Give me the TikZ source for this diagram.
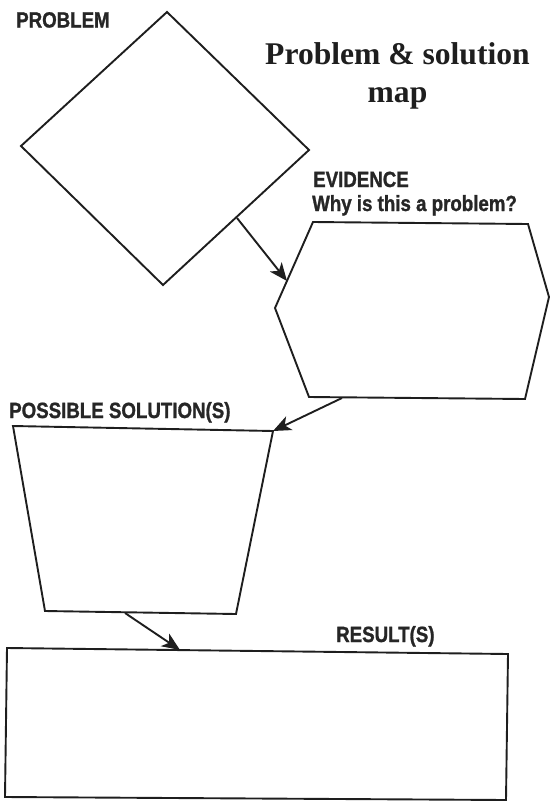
\documentclass[tikz,border=0pt]{standalone}
\usepackage{fontspec}
\setmainfont{Liberation Serif}
\newfontfamily\labelfont{Liberation Sans}[FakeStretch=0.85, BoldFeatures={FakeBold=1.2}]
\usetikzlibrary{arrows.meta}
\definecolor{ink}{HTML}{1E1E1E}
\definecolor{labelink}{HTML}{262626}
\tikzset{
  outline/.style={draw=ink, line width=1.9pt, line join=miter},
  link/.style={draw=ink, line width=1.9pt, -{Stealth[length=18pt,width=15pt,inset=5pt]}},
  heading/.style={anchor=base west, inner sep=0pt, text=labelink,
    font=\labelfont\bfseries\fontsize{22}{26}\selectfont},
  titletext/.style={anchor=base, inner sep=0pt, text=ink,
    font=\bfseries\fontsize{31.6}{38}\selectfont}
}
\begin{document}
\begin{tikzpicture}[x=1pt,y=-1pt]
\useasboundingbox (0,0) rectangle (550,801);

% shapes
\draw[outline] (167,12) -- (309,150) -- (163,285) -- (21,146) -- cycle;
\draw[outline] (313,222) -- (528,224) -- (549,297) -- (525,399) -- (309,397) -- (275,308) -- cycle;
\draw[outline] (13,426) -- (273,431) -- (236,614) -- (45,611) -- cycle;
\draw[outline] (7,648) -- (508,654) -- (506,800) -- (5,797) -- cycle;

% connector end points
\coordinate (probOut) at (237,218);
\coordinate (evidIn)  at (287,281);
\coordinate (evidOut) at (342,398);
\coordinate (solIn)   at (273,431);
\coordinate (solOut)  at (125,613);
\coordinate (resIn)   at (180,650);

\draw[link] (probOut) -- (evidIn);
\draw[link] (evidOut) -- (solIn);
\draw[link] (solOut) -- (resIn);

% labels
\node[heading] (lblProblem) at (16,27.5) {PROBLEM};
\node[heading] (lblEvidence) at (313,187) {EVIDENCE};
\node[heading] (lblWhy) at (312,211) {Why is this a problem?};
\node[heading] (lblSolution) at (9,418) {POSSIBLE SOLUTION(S)};
\node[heading] (lblResult) at (336,642) {RESULT(S)};

% title
\node[titletext] (title1) at (397.5,64) {Problem \& solution};
\node[titletext] (title2) at (397.5,102) {map};
\end{tikzpicture}
\end{document}
